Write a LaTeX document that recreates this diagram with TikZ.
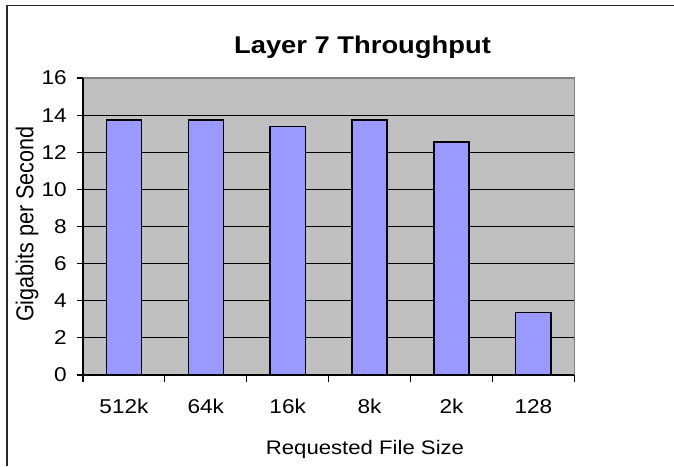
\documentclass[tikz,border=0pt]{standalone}
\usepackage{fontspec}
\setmainfont{Liberation Sans}
\definecolor{plotgray}{RGB}{192,192,192}
\definecolor{barblue}{RGB}{153,153,255}
\definecolor{edgegray}{RGB}{128,128,128}
\definecolor{framegray}{RGB}{40,40,40}
\begin{document}
\begin{tikzpicture}[x=1pt,y=-1pt,
  lbl/.style={inner sep=0pt, xscale=1.13, transform shape},
  ticklbl/.style={lbl, font=\fontsize{20}{24}\selectfont},
  titlelbl/.style={lbl, font=\fontsize{24.2}{29}\selectfont\bfseries},
  axislbl/.style={lbl, font=\fontsize{19.6}{24}\selectfont},
  grid line/.style={black, line width=1pt},
  bar/.style={fill=barblue, draw=black, line width=1.4pt},
  axis line/.style={black, line width=1.2pt}]
\useasboundingbox (0,0) rectangle (674,466);
\fill[white] (0,0) rectangle (674,466);
% outer chart frame (left and top edges)
\draw[framegray, line width=1.6pt] (6.8,466) -- (6.8,5.5) -- (674,5.5);
% plot area
\def\xl{83}\def\xr{574.3}\def\yb{375}\def\yt{78}
\fill[plotgray] (\xl,\yt) rectangle (\xr,\yb);
\foreach \v in {2,4,...,14}
  \draw[grid line] (\xl,{\yb-\v*18.5625}) -- (\xr,{\yb-\v*18.5625});
\draw[edgegray, line width=1.4pt] (\xl,\yt) -- (\xr,\yt) -- (\xr,\yb);
% bars
\foreach \val [count=\i from 0] in {13.74,13.74,13.40,13.74,12.55,3.38} {
  \pgfmathsetmacro\cx{\xl+81.883*(\i+0.5)}
  \draw[bar] (\cx-17.6,\yb) rectangle (\cx+17.6,{\yb-\val*18.5625});
}
% axes and tick marks
\draw[axis line] (\xl,\yt) -- (\xl,\yb) -- (\xr,\yb);
\foreach \v in {0,2,...,16}
  \draw[axis line] (76.5,{\yb-\v*18.5625}) -- (\xl,{\yb-\v*18.5625});
\foreach \k in {0,...,6}
  \draw[axis line] ({\xl+81.883*\k},\yb) -- ({\xl+81.883*\k},381.5);
% y tick labels
\foreach \v in {0,2,...,16}
  \node[ticklbl, anchor=east] (ytick\v) at (67,{\yb-\v*18.5625}) {\v};
% x tick labels
\foreach \name [count=\i from 0] in {512k,64k,16k,8k,2k,128}
  \node[ticklbl, anchor=base] (xtick\i) at ({\xl+81.883*(\i+0.5)},413.3) {\name};
% titles
\node[titlelbl, anchor=base] (title) at (362.5,53.3) {Layer 7 Throughput};
\node[axislbl, anchor=base] (xtitle) at (365,454) {Requested File Size};
\node[inner sep=0pt, font=\fontsize{21.6}{26}\selectfont, xscale=1.13, rotate=90, transform shape, anchor=base]
  (ytitle) at (33.3,224) {Gigabits per Second};
\end{tikzpicture}
\end{document}
